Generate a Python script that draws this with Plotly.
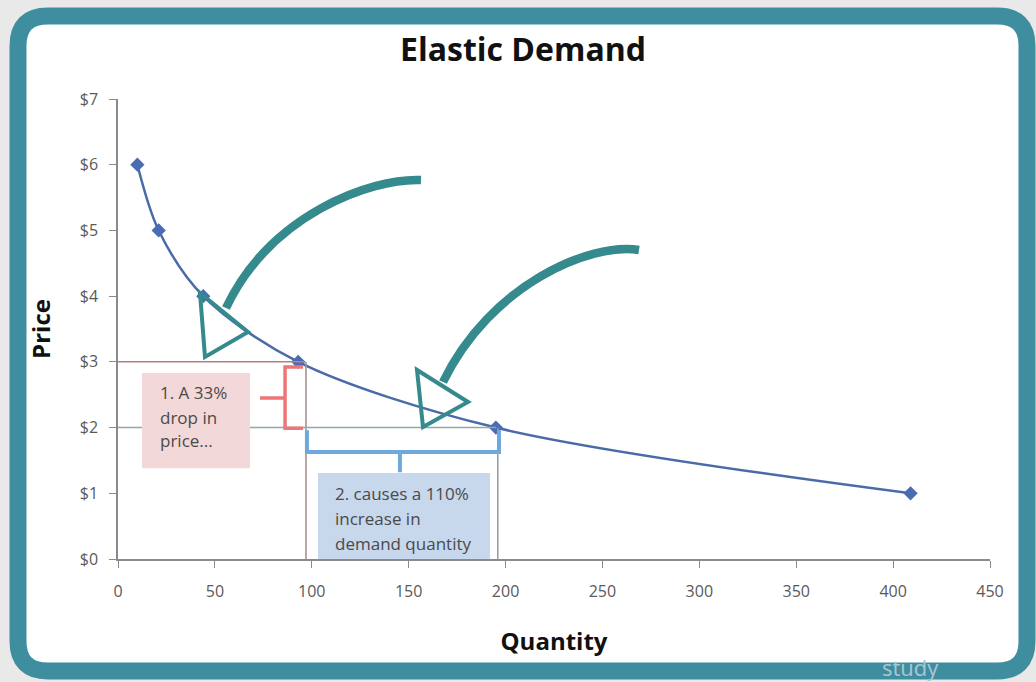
import plotly.graph_objects as go

# ---- data ----
quantity = [10, 21, 44, 93, 195, 409]
price = [6, 5, 4, 3, 2, 1]
x_ticks = [0, 50, 100, 150, 200, 250, 300, 350, 400, 450]
y_ticks = [0, 1, 2, 3, 4, 5, 6, 7]
y_tick_labels = ["$" + str(v) for v in y_ticks]
title_text = "Elastic Demand"
box1_lines = ["1. A 33%", "drop in", "price..."]
box2_lines = ["2. causes a 110%", "increase in", "demand quantity"]

W, H = 1036, 682
L, R, T, B = 118, 990, 99, 559


def pp(px, py):
    return (px - L) / (R - L), (B - py) / (B - T)


def path_px(cmds):
    out = []
    for c in cmds:
        if isinstance(c, str):
            out.append(c)
        else:
            x, y = pp(*c)
            out.append(f"{x:.5f},{y:.5f}")
    return " ".join(out)


fig = go.Figure()
fig.add_trace(go.Scatter(
    x=quantity, y=price, mode="lines+markers",
    line=dict(color="#4a6aa8", width=2.5, shape="spline", smoothing=0.9),
    marker=dict(symbol="diamond", size=11, color="#4a6cb3"),
    showlegend=False, hoverinfo="x+y",
))

shapes = []
# frame
l, t, r, b, rad = 18, 16, 1027, 671, 30
frame = path_px(["M", (l + rad, t), "L", (r - rad, t), "Q", (r, t), (r, t + rad),
                 "L", (r, b - rad), "Q", (r, b), (r - rad, b), "L", (l + rad, b),
                 "Q", (l, b), (l, b - rad), "L", (l, t + rad), "Q", (l, t), (l + rad, t), "Z"])
shapes.append(dict(type="path", xref="paper", yref="paper", path=frame,
                   line=dict(color="#3e8e9f", width=17), fillcolor="white", layer="below"))

# reference lines
p3x, p3y = quantity[3], price[3]
p4x, p4y = quantity[4], price[4]
shapes += [
    dict(type="line", xref="x", yref="y", x0=0, x1=p3x + 3, y0=p3y, y1=p3y,
         line=dict(color="#b88080", width=1.5)),
    dict(type="line", xref="x", yref="y", x0=p3x + 4, x1=p3x + 4, y0=0, y1=p3y,
         line=dict(color="#a88a8a", width=1.5)),
    dict(type="line", xref="x", yref="y", x0=0, x1=p4x, y0=p4y, y1=p4y,
         line=dict(color="#8fa8a8", width=1.5)),
    dict(type="line", xref="x", yref="y", x0=p4x + 1, x1=p4x + 1, y0=0, y1=p4y,
         line=dict(color="#8f9c9c", width=1.5)),
]

# text boxes
shapes.append(dict(type="rect", xref="x", yref="y", x0=12.4, x1=68.1, y0=1.38, y1=2.83,
                   fillcolor="#f2d8d8", line=dict(width=0)))
shapes.append(dict(type="rect", xref="x", yref="y", x0=103.2, x1=192, y0=-0.02, y1=1.31,
                   fillcolor="#c7d7ec", line=dict(width=0)))

# brackets
shapes.append(dict(type="path", xref="x", yref="y",
                   path="M 95.5,2.92 L 86.2,2.92 L 86.2,1.99 L 95.5,1.99 M 86.2,2.45 L 73.3,2.45",
                   line=dict(color="#ee7676", width=3.5)))
shapes.append(dict(type="path", xref="x", yref="y",
                   path="M 97.5,1.96 L 97.5,1.63 L 196.6,1.63 L 196.6,1.96 M 145.5,1.63 L 145.5,1.32",
                   line=dict(color="#6fa8dc", width=4)))

# hand drawn arrows
arrow_col = "#348a8c"
shapes.append(dict(type="path", xref="paper", yref="paper",
                   path=path_px(["M", (421, 180), "C", (370, 178), (270, 215), (226, 308)]),
                   line=dict(color=arrow_col, width=8.5)))
shapes.append(dict(type="path", xref="paper", yref="paper",
                   path=path_px(["M", (200, 293), "L", (205, 357), "L", (248, 332), "Z"]),
                   line=dict(color=arrow_col, width=4)))
shapes.append(dict(type="path", xref="paper", yref="paper",
                   path=path_px(["M", (639, 250), "C", (590, 242), (490, 285), (443, 382)]),
                   line=dict(color=arrow_col, width=8.5)))
shapes.append(dict(type="path", xref="paper", yref="paper",
                   path=path_px(["M", (417, 370), "L", (423, 427), "L", (468, 402), "Z"]),
                   line=dict(color=arrow_col, width=4)))

annotations = []
for txt, yy in zip(box1_lines, [2.53, 2.16, 1.80]):
    annotations.append(dict(x=20.6, y=yy, xref="x", yref="y", text=txt, showarrow=False,
                            xanchor="left", yanchor="middle",
                            font=dict(family="Open Sans", size=17, color="#4a4a4a")))
for txt, yy in zip(box2_lines, [1.00, 0.61, 0.23]):
    annotations.append(dict(x=110.9, y=yy, xref="x", yref="y", text=txt, showarrow=False,
                            xanchor="left", yanchor="middle",
                            font=dict(family="Open Sans", size=17, color="#4a4a4a")))
# logo fragment
lx, ly = pp(880, 684)
annotations.append(dict(x=lx, y=ly, xref="paper", yref="paper", text="study", showarrow=False,
                        xanchor="left", yanchor="bottom",
                        font=dict(family="Open Sans", size=22, color="#a9c6d4")))

fig.update_layout(
    width=W, height=H,
    margin=dict(l=L, r=W - R, t=T, b=H - B, autoexpand=False),
    paper_bgcolor="#e9e9e9",
    plot_bgcolor="rgba(0,0,0,0)",
    title=dict(text=f"<b>{title_text}</b>", x=523 / W, xanchor="center",
               y=1 - 50 / H, yanchor="middle",
               font=dict(family="Open Sans", size=32, color="#111111")),
    shapes=shapes,
    annotations=annotations,
    font=dict(family="Open Sans"),
)
axis_common = dict(showline=True, linecolor="#8a8a8a", linewidth=1.5, ticks="outside",
                   ticklen=7, tickcolor="#8a8a8a", showgrid=False, zeroline=False,
                   automargin=False,
                   tickfont=dict(family="Open Sans", size=16, color="#5a5a5a"))
fig.update_xaxes(range=[0, 450], tickvals=x_ticks, ticklabelstandoff=10, **axis_common,
                 title=dict(text="<b>Quantity</b>", standoff=32,
                            font=dict(family="Open Sans", size=24, color="#111111")))
fig.update_yaxes(range=[0, 7], tickvals=y_ticks, ticktext=y_tick_labels,
                 ticklabelstandoff=8, **axis_common,
                 title=dict(text="<b>Price</b>", standoff=22,
                            font=dict(family="Open Sans", size=24, color="#111111")))

fig.write_html("out.html", config={"displayModeBar": False},
               post_script="document.body.style.margin='0px';")
